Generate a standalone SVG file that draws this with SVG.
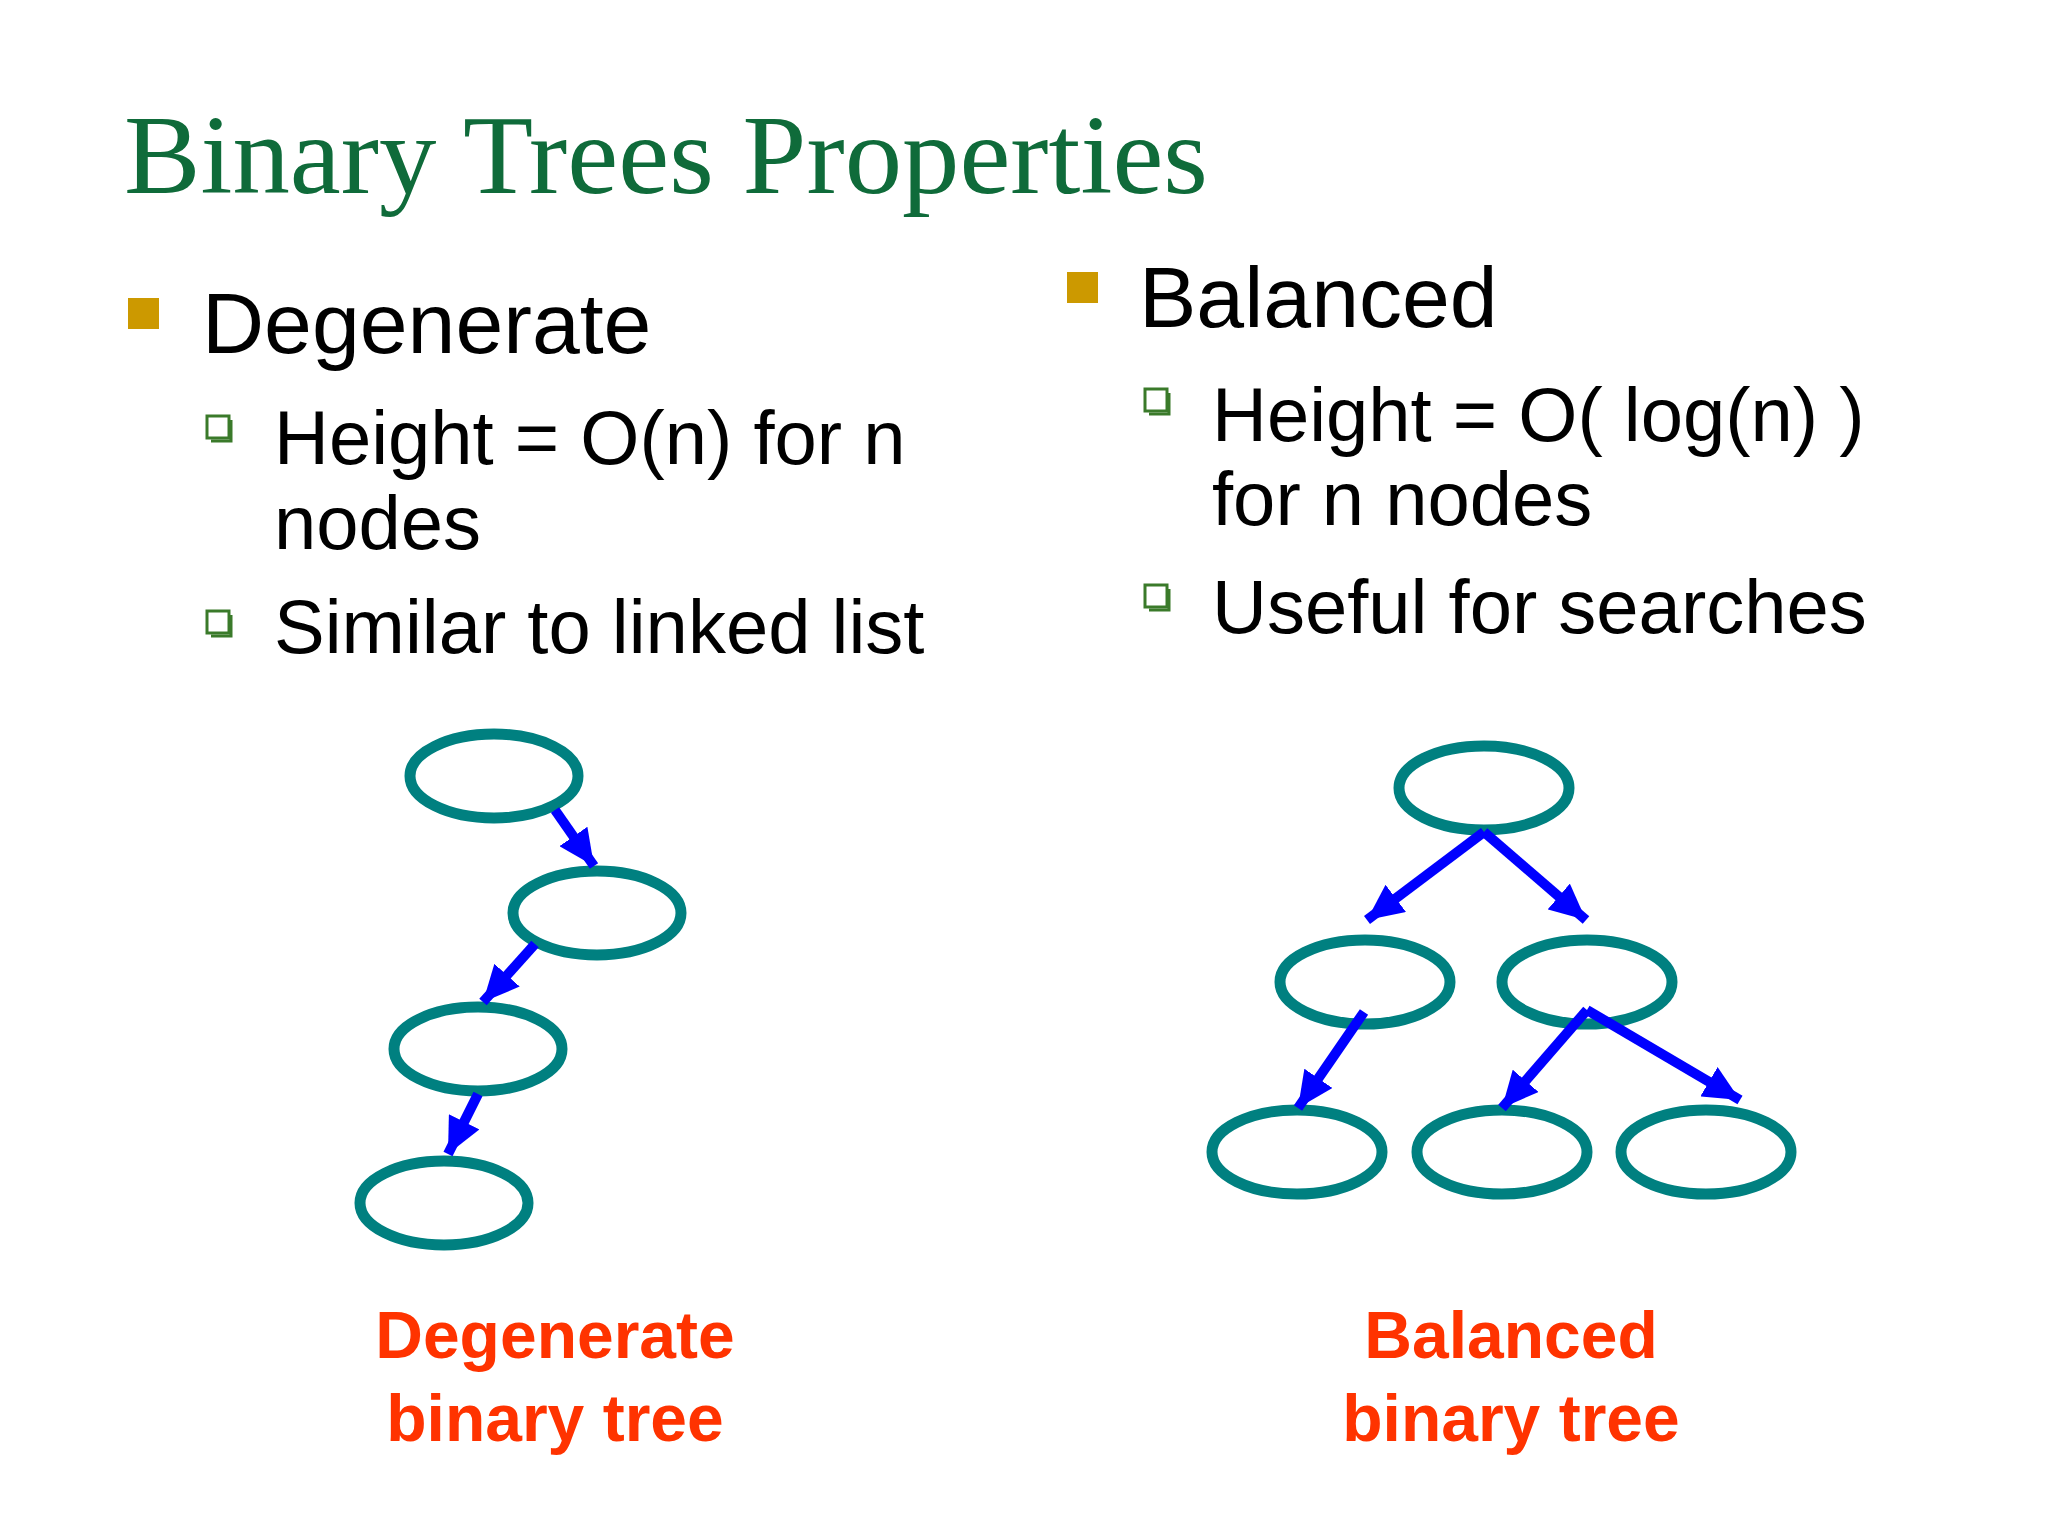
<svg xmlns="http://www.w3.org/2000/svg" width="2048" height="1536" viewBox="0 0 2048 1536">
<style>
.t{font-family:"Liberation Sans",Arial,sans-serif;fill:#000}
.n{fill:none;stroke:#008080;stroke-width:11}
.e{stroke:#0000ff;stroke-width:10;fill:none}
.lbl{font-family:"Liberation Sans",Arial,sans-serif;font-weight:bold;fill:#ff3300;font-size:66px;text-anchor:middle}
.sq{fill:#cc9900}
.hb{fill:#fff;stroke:#3a7a2a;stroke-width:3}
</style>
<defs>
<marker id="ah" markerUnits="userSpaceOnUse" markerWidth="40" markerHeight="34" refX="36" refY="17" orient="auto">
<path d="M0,0 L36,17 L0,34 Z" fill="#0000ff"/>
</marker>
</defs>
<rect width="2048" height="1536" fill="#fff"/>
<text x="124" y="193" font-family="'Liberation Serif',serif" font-size="112" fill="#0f6b3a" textLength="1084" lengthAdjust="spacingAndGlyphs">Binary Trees Properties</text>
<g id="left-text">
<rect class="sq" x="128" y="298" width="31" height="31"/>
<text class="t" x="202" y="353" font-size="86">Degenerate</text>
<rect class="hb" x="207" y="416" width="22" height="22"/><path d="M231,420 V441 H211" stroke="#3a7a2a" stroke-width="3" fill="none"/>
<text class="t" x="274" y="464" font-size="76">Height = O(n) for n</text>
<text class="t" x="274" y="549" font-size="76">nodes</text>
<rect class="hb" x="207" y="611" width="22" height="22"/><path d="M231,615 V636 H211" stroke="#3a7a2a" stroke-width="3" fill="none"/>
<text class="t" x="274" y="653" font-size="76">Similar to linked list</text>
</g>
<g id="right-text">
<rect class="sq" x="1067" y="272" width="31" height="31"/>
<text class="t" x="1139" y="327" font-size="86">Balanced</text>
<rect class="hb" x="1145" y="389" width="22" height="22"/><path d="M1169,393 V414 H1149" stroke="#3a7a2a" stroke-width="3" fill="none"/>
<text class="t" x="1212" y="441" font-size="76">Height = O( log(n) )</text>
<text class="t" x="1212" y="525" font-size="76">for n nodes</text>
<rect class="hb" x="1145" y="585" width="22" height="22"/><path d="M1169,589 V610 H1149" stroke="#3a7a2a" stroke-width="3" fill="none"/>
<text class="t" x="1212" y="633" font-size="76">Useful for searches</text>
</g>
<g id="d1"><ellipse class="n" cx="494" cy="776" rx="84" ry="42"/></g>
<g id="d2"><ellipse class="n" cx="597" cy="913" rx="84" ry="42"/></g>
<g id="d3"><ellipse class="n" cx="478" cy="1049" rx="84" ry="42"/></g>
<g id="d4"><ellipse class="n" cx="444" cy="1203" rx="84" ry="42"/></g>
<g id="b1"><ellipse class="n" cx="1484" cy="788" rx="85" ry="42"/></g>
<g id="b2"><ellipse class="n" cx="1365" cy="982" rx="85" ry="42"/></g>
<g id="b3"><ellipse class="n" cx="1587" cy="982" rx="85" ry="42"/></g>
<g id="b4"><ellipse class="n" cx="1297" cy="1152" rx="85" ry="42"/></g>
<g id="b5"><ellipse class="n" cx="1502" cy="1152" rx="85" ry="42"/></g>
<g id="b6"><ellipse class="n" cx="1706" cy="1152" rx="85" ry="42"/></g>
<g id="connectors">
<path class="e" d="M555,810 L594,866" marker-end="url(#ah)"/>
<path class="e" d="M535,944 L483,1002" marker-end="url(#ah)"/>
<path class="e" d="M478,1094 L448,1154" marker-end="url(#ah)"/>
<path class="e" d="M1484,832 L1367,920" marker-end="url(#ah)"/>
<path class="e" d="M1484,832 L1586,920" marker-end="url(#ah)"/>
<path class="e" d="M1364,1012 L1298,1108" marker-end="url(#ah)"/>
<path class="e" d="M1587,1010 L1502,1108" marker-end="url(#ah)"/>
<path class="e" d="M1587,1010 L1740,1100" marker-end="url(#ah)"/>
</g>
<text class="lbl" x="555" y="1358">Degenerate</text>
<text class="lbl" x="555" y="1441">binary tree</text>
<text class="lbl" x="1511" y="1358">Balanced</text>
<text class="lbl" x="1511" y="1441">binary tree</text>
</svg>
